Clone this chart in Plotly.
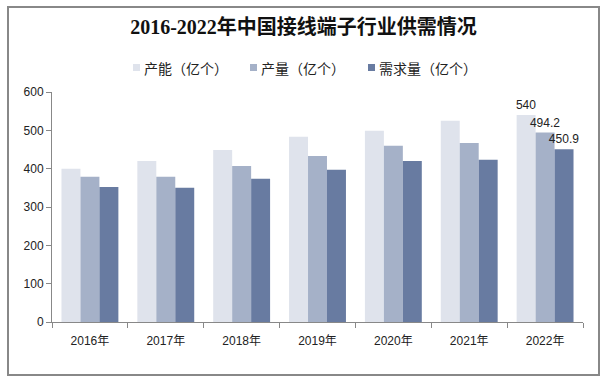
import plotly.graph_objects as go

years = ["2016年", "2017年", "2018年", "2019年", "2020年", "2021年", "2022年"]
capacity = [400, 420, 449, 483, 499, 525, 540]
production = [379, 379, 407, 433, 460, 467, 494.2]
demand = [352, 350, 374, 397, 420, 423, 450.9]
series_names = ["产能（亿个）", "产量（亿个）", "需求量（亿个）"]
colors = ["#DFE3EC", "#A5B1C8", "#687BA1"]
title_text = "2016-2022年中国接线端子行业供需情况"

W, H = 607, 381
ML, MR, MT, MB = 52, 24, 92, 59
PW, PH = W - ML - MR, H - MT - MB


def px_x(px):
    return (px - ML) / PW


def px_y(py):
    return (H - MB - py) / PH


def last_label(vals):
    return [""] * (len(vals) - 1) + [f"{vals[-1]:g}"]


fig = go.Figure()
for name, vals, col in zip(series_names, [capacity, production, demand], colors):
    fig.add_trace(go.Bar(
        x=years, y=vals, name=name, marker=dict(color=col, line=dict(width=0)),
        text=last_label(vals), textposition="outside", cliponaxis=False,
        constraintext="none", showlegend=False, hoverinfo="skip",
        textfont=dict(family="Liberation Sans, Arial", size=12, color="#222"),
    ))

fig.update_layout(
    width=W, height=H,
    paper_bgcolor="white", plot_bgcolor="white",
    margin=dict(l=ML, r=MR, t=MT, b=MB),
    barmode="group", bargap=0.25, bargroupgap=0,
    title=dict(text="<b>" + title_text + "</b>", x=0.5, xanchor="center",
               y=1 - 27 / H, yanchor="middle",
               font=dict(family="Liberation Serif, Noto Sans CJK SC", size=20, color="#111")),
    showlegend=False,
    font=dict(family="Liberation Sans, Noto Sans CJK SC", color="#222"),
)
fig.update_xaxes(showline=True, linecolor="#888", linewidth=1, ticks="outside",
                 tickson="boundaries", ticklen=5, tickcolor="#888", ticklabelstandoff=8,
                 tickfont=dict(family="Liberation Sans, Noto Sans CJK SC", size=12, color="#222"))
fig.update_yaxes(range=[0, 600], dtick=100, showgrid=False, zeroline=False,
                 showline=True, linecolor="#888", linewidth=1, ticks="outside",
                 ticklen=5, tickcolor="#888",
                 tickfont=dict(family="Liberation Sans", size=12, color="#222"))

# custom legend (small squares + labels)
legend_sq_x = [133, 250, 368]
legend_y = 67.5
for sx, name, col in zip(legend_sq_x, series_names, colors):
    fig.add_shape(type="rect", xref="paper", yref="paper",
                  x0=px_x(sx), x1=px_x(sx + 7), y0=px_y(legend_y + 3.5), y1=px_y(legend_y - 3.5),
                  line=dict(width=0), fillcolor=col)
    fig.add_annotation(xref="paper", yref="paper", x=px_x(sx + 9), y=px_y(legend_y),
                       xanchor="left", yanchor="middle", showarrow=False, text=name,
                       font=dict(family="Noto Sans CJK SC", size=14, color="#222"))

# outer frame
fig.add_shape(type="rect", xref="paper", yref="paper",
              x0=px_x(8), x1=px_x(599), y0=px_y(375), y1=px_y(7),
              line=dict(color="#888", width=2), fillcolor="rgba(0,0,0,0)", layer="below")

fig.write_html("out.html", config={"displayModeBar": False},
               post_script="document.body.style.margin='0';")
